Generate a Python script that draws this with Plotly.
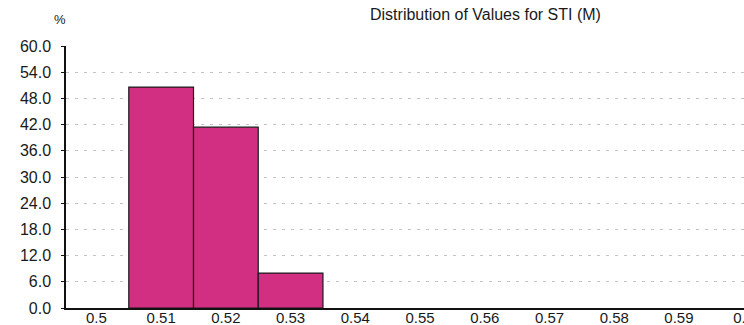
import plotly.graph_objects as go

# Histogram of STI (M) values: bin centres and percentage of values per bin
bin_centres = [0.51, 0.52, 0.53]
percent = [50.6, 41.4, 8.0]
bin_width = 0.01

x_ticks = [0.5, 0.51, 0.52, 0.53, 0.54, 0.55, 0.56, 0.57, 0.58, 0.59, 0.6]
x_labels = ["0.5", "0.51", "0.52", "0.53", "0.54", "0.55", "0.56", "0.57", "0.58", "0.59", "0.6"]
y_ticks = [0, 6, 12, 18, 24, 30, 36, 42, 48, 54, 60]
y_labels = ["%.1f" % v for v in y_ticks]

FONT = "Liberation Sans, Arial, sans-serif"

W, H = 744, 325
ML, MR, MT, MB = 66, 0, 46, 17
plot_w = W - ML - MR
plot_h = H - MT - MB


def paper_xy(px, py):
    """Convert pixel position on the page into paper coordinates."""
    return (px - ML) / plot_w, (H - MB - py) / plot_h


fig = go.Figure()
fig.add_trace(go.Bar(
    x=bin_centres,
    y=percent,
    width=[bin_width] * len(bin_centres),
    marker=dict(color="#D22F82", line=dict(color="#1a1a1a", width=1.2)),
    hoverinfo="x+y",
))

fig.update_layout(
    width=W,
    height=H,
    margin=dict(l=ML, r=MR, t=MT, b=MB),
    paper_bgcolor="white",
    plot_bgcolor="white",
    showlegend=False,
    font=dict(family=FONT, size=16, color="#1a1a1a"),
)

tx, ty = paper_xy(485, 14)
fig.add_annotation(text="Distribution of Values for STI (M)", x=tx, y=ty,
                   xref="paper", yref="paper", showarrow=False,
                   xanchor="center", yanchor="middle",
                   font=dict(size=16, family=FONT))
px_, py_ = paper_xy(60, 19)
fig.add_annotation(text="%", x=px_, y=py_, xref="paper", yref="paper",
                   showarrow=False, xanchor="center", yanchor="middle",
                   font=dict(size=13, family=FONT))

fig.update_xaxes(
    range=[0.4953, 0.60005],
    tickvals=x_ticks,
    ticktext=x_labels,
    showgrid=False,
    showline=True,
    linecolor="#111111",
    linewidth=1.5,
    ticks="",
    ticklabeloverflow="allow",
    ticklabelstandoff=-5,
    automargin=False,
    tickfont=dict(size=15, family=FONT),
    zeroline=False,
    fixedrange=True,
)
fig.update_yaxes(
    range=[0, 60],
    tickvals=y_ticks,
    ticktext=y_labels,
    showgrid=True,
    gridcolor="#c4c4c4",
    griddash="3px,6px",
    gridwidth=1,
    showline=True,
    linecolor="#111111",
    linewidth=1.5,
    ticks="outside",
    ticklen=3,
    tickcolor="#111111",
    ticklabelstandoff=7,
    automargin=False,
    tickfont=dict(size=16, family=FONT),
    zeroline=False,
    fixedrange=True,
)

fig.write_html("out.html")
